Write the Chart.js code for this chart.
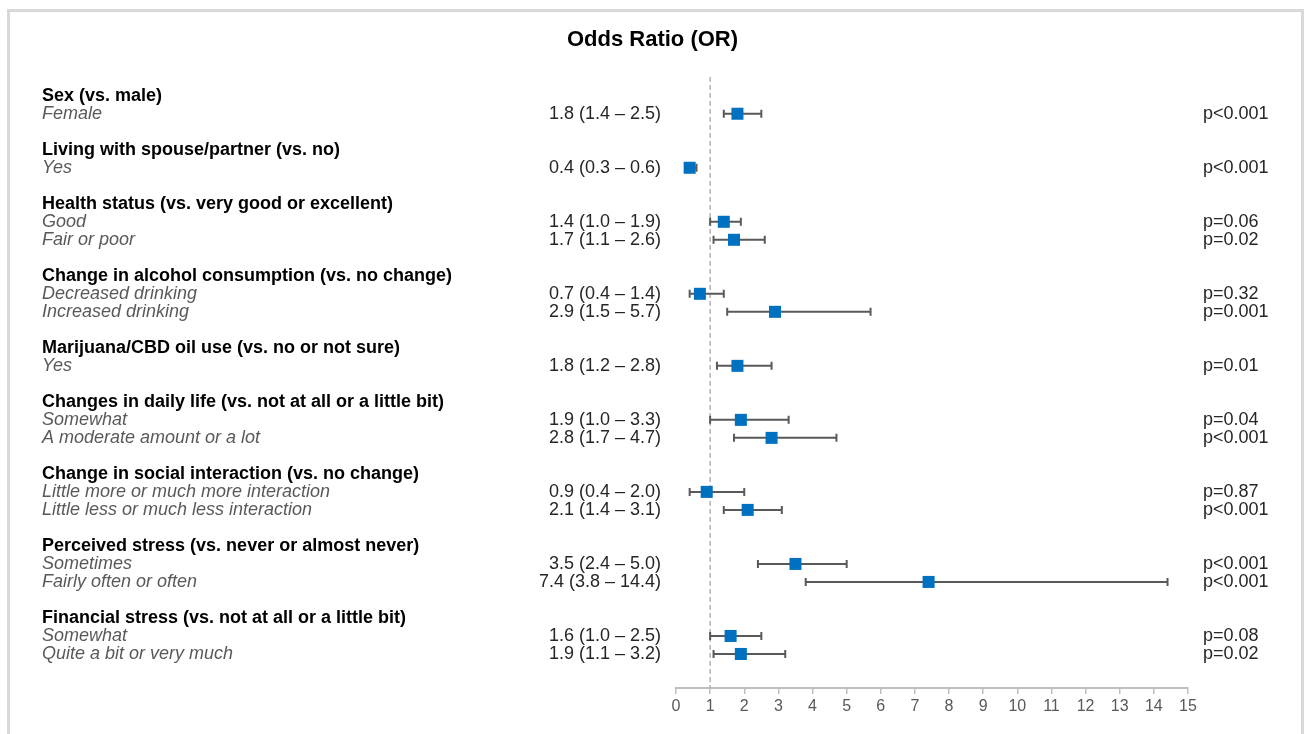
<!DOCTYPE html>
<html>
<head>
<meta charset="utf-8">
<script src="https://cdn.jsdelivr.net/npm/chart.js@4.4.1/dist/chart.umd.min.js"></script>
<style>
  body { margin: 0; background: #fff; }
  canvas { display: block; }
</style>
</head>
<body>
<canvas id="forest" width="1305" height="734"></canvas>
<script>
// group headers (bold) and the rows under them (italic)
const groups = [
  'Sex (vs. male)',
  'Living with spouse/partner (vs. no)',
  'Health status (vs. very good or excellent)',
  'Change in alcohol consumption (vs. no change)',
  'Marijuana/CBD oil use (vs. no or not sure)',
  'Changes in daily life (vs. not at all or a little bit)',
  'Change in social interaction (vs. no change)',
  'Perceived stress (vs. never or almost never)',
  'Financial stress (vs. not at all or a little bit)'
]
const itemLabels = [
  'Female',
  'Yes',
  'Good', 'Fair or poor',
  'Decreased drinking', 'Increased drinking',
  'Yes',
  'Somewhat', 'A moderate amount or a lot',
  'Little more or much more interaction', 'Little less or much less interaction',
  'Sometimes', 'Fairly often or often',
  'Somewhat', 'Quite a bit or very much'
]
const itemGroup = [0, 1, 2, 2, 3, 3, 4, 5, 5, 6, 6, 7, 7, 8, 8]
const orValues = [1.8, 0.4, 1.4, 1.7, 0.7, 2.9, 1.8, 1.9, 2.8, 0.9, 2.1, 3.5, 7.4, 1.6, 1.9]
const ciLow    = [1.4, 0.3, 1.0, 1.1, 0.4, 1.5, 1.2, 1.0, 1.7, 0.4, 1.4, 2.4, 3.8, 1.0, 1.1]
const ciHigh   = [2.5, 0.6, 1.9, 2.6, 1.4, 5.7, 2.8, 3.3, 4.7, 2.0, 3.1, 5.0, 14.4, 2.5, 3.2]
const pValues  = ['p<0.001', 'p<0.001', 'p=0.06', 'p=0.02', 'p=0.32', 'p=0.001', 'p=0.01',
  'p=0.04', 'p<0.001', 'p=0.87', 'p<0.001', 'p<0.001', 'p<0.001', 'p=0.08', 'p=0.02']

// work out which row each header / item goes on (blank row between groups)
let headerRows = []
let itemRows = []
let r = 0
groups.forEach((g, gi) => {
  headerRows.push(r)
  r++
  itemGroup.forEach((ig, i) => {
    if (ig === gi) {
      itemRows[i] = r
      r++
    }
  })
  r++
})

const fmt = v => v.toFixed(1)
const orText = orValues.map((v, i) => `${fmt(v)} (${fmt(ciLow[i])} – ${fmt(ciHigh[i])})`)
const FONT = '"Liberation Sans", Arial, sans-serif'

const forestPlugin = {
  id: 'forest',
  beforeDraw(chart) {
    let ctx = chart.ctx
    ctx.save()
    ctx.strokeStyle = '#d9d9d9'
    ctx.lineWidth = 3
    ctx.strokeRect(8.5, 10.5, 1294, 900)
    ctx.restore()
  },
  beforeDatasetsDraw(chart) {
    let ctx = chart.ctx
    let x = chart.scales.x
    let y = chart.scales.y
    let area = chart.chartArea
    ctx.save()
    // reference line at OR = 1
    ctx.strokeStyle = '#b3b3b3'
    ctx.lineWidth = 1.5
    ctx.setLineDash([5, 3])
    ctx.beginPath()
    ctx.moveTo(x.getPixelForValue(1), area.top)
    ctx.lineTo(x.getPixelForValue(1), area.bottom)
    ctx.stroke()
    ctx.setLineDash([])
    // confidence intervals
    ctx.strokeStyle = '#595959'
    ctx.lineWidth = 2
    orValues.forEach((v, i) => {
      let py = y.getPixelForValue(itemRows[i])
      let x0 = x.getPixelForValue(ciLow[i])
      let x1 = x.getPixelForValue(ciHigh[i])
      ctx.beginPath()
      ctx.moveTo(x0, py)
      ctx.lineTo(x1, py)
      ctx.moveTo(x0, py - 4)
      ctx.lineTo(x0, py + 4)
      ctx.moveTo(x1, py - 4)
      ctx.lineTo(x1, py + 4)
      ctx.stroke()
    })
    ctx.restore()
  },
  afterDraw(chart) {
    let ctx = chart.ctx
    let y = chart.scales.y
    ctx.save()
    ctx.textBaseline = 'middle'
    ctx.textAlign = 'left'
    ctx.fillStyle = '#000'
    ctx.font = 'bold 18px ' + FONT
    groups.forEach((g, gi) => {
      ctx.fillText(g, 42, y.getPixelForValue(headerRows[gi]))
    })
    ctx.font = 'italic 18px ' + FONT
    ctx.fillStyle = '#595959'
    itemLabels.forEach((t, i) => {
      ctx.fillText(t, 42, y.getPixelForValue(itemRows[i]))
    })
    ctx.font = '18px ' + FONT
    ctx.fillStyle = '#262626'
    ctx.textAlign = 'right'
    orText.forEach((t, i) => {
      ctx.fillText(t, 661, y.getPixelForValue(itemRows[i]))
    })
    ctx.textAlign = 'left'
    pValues.forEach((t, i) => {
      ctx.fillText(t, 1203, y.getPixelForValue(itemRows[i]))
    })
    ctx.restore()
  }
}

let forestChart = new Chart(document.getElementById('forest').getContext('2d'), {
  type: 'scatter',
  data: {
    datasets: [{
      label: 'OR',
      data: orValues.map((v, i) => ({ x: v, y: itemRows[i] })),
      backgroundColor: '#0070c0',
      borderColor: '#0070c0',
      borderWidth: 0,
      pointStyle: 'rect',
      pointRadius: 8.5,
      pointHoverRadius: 8.5
    }]
  },
  options: {
    responsive: false,
    animation: false,
    devicePixelRatio: 1,
    layout: {
      autoPadding: false,
      padding: { left: 0, right: 0, top: 0, bottom: 16 }
    },
    plugins: {
      legend: { display: false },
      tooltip: { enabled: false },
      title: {
        display: true,
        text: 'Odds Ratio (OR)',
        color: '#000',
        font: { family: FONT, size: 22, weight: 'bold' },
        padding: { top: 27, bottom: 23.6 }
      }
    },
    scales: {
      x: {
        type: 'linear',
        min: 0,
        max: 15,
        ticks: {
          stepSize: 1,
          color: '#595959',
          padding: 3,
          font: { family: FONT, size: 16 }
        },
        grid: {
          drawOnChartArea: false,
          color: '#bfbfbf',
          lineWidth: 1.5,
          tickLength: 6
        },
        border: { color: '#bfbfbf', width: 2 },
        afterFit: scale => { scale.height = 30 }
      },
      y: {
        type: 'linear',
        position: 'left',
        reverse: true,
        min: -1.04,
        max: 32.89,
        ticks: { display: false },
        grid: { display: false },
        border: { display: false },
        afterFit: scale => { scale.width = 676 }
      },
      yRight: {
        type: 'linear',
        position: 'right',
        ticks: { display: false },
        grid: { display: false },
        border: { display: false },
        afterFit: scale => { scale.width = 117 }
      }
    }
  },
  plugins: [forestPlugin]
})
</script>
</body>
</html>
